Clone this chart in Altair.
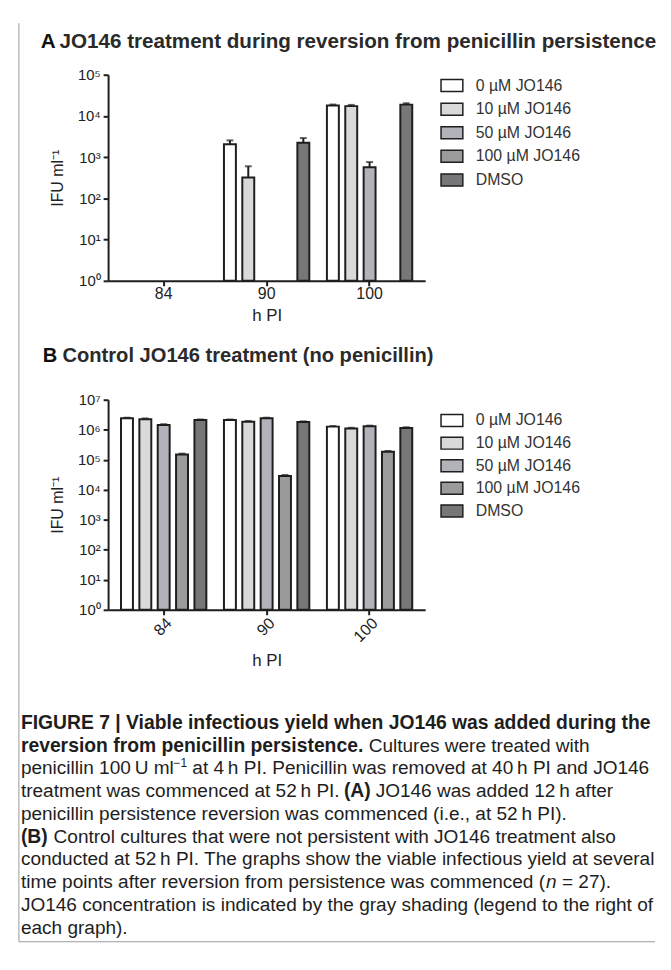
import altair as alt
import pandas as pd

FONT = "Liberation Sans"
INK = "#1e1e1e"

times = ["84", "90", "100"]
series = ["0 µM JO146", "10 µM JO146", "50 µM JO146", "100 µM JO146", "DMSO"]
shades = ["#ffffff", "#d9d9d9", "#b2b2bb", "#9b9b9b", "#77777a"]

# Panel A (IFU/ml; 0 = nothing recovered, no bar)
a_84 = [0, 0, 0, 0, 0]
a_90 = [2050, 320, 0, 0, 2250]
a_100 = [17800, 17300, 570, 0, 18800]
a_84_hi = [0, 0, 0, 0, 0]
a_90_hi = [2550, 600, 0, 0, 2900]
a_100_hi = [18900, 18500, 760, 0, 20300]

# Panel B
b_84 = [2400000, 2250000, 1450000, 150000, 2100000]
b_90 = [2100000, 1860000, 2400000, 28500, 1800000]
b_100 = [1270000, 1100000, 1300000, 185000, 1150000]
b_84_hi = [2520000, 2380000, 1530000, 160000, 2200000]
b_90_hi = [2200000, 1960000, 2520000, 31000, 1900000]
b_100_hi = [1330000, 1160000, 1370000, 196000, 1210000]


def frame(vals, his):
    rows = []
    for t, vl, hl in zip(times, vals, his):
        for s, v, h in zip(series, vl, hl):
            if v > 0:
                rows.append({"time": t, "series": s, "value": v, "hi": h, "base": 1})
    return pd.DataFrame(rows)


df_a = frame([a_84, a_90, a_100], [a_84_hi, a_90_hi, a_100_hi])
df_b = frame([b_84, b_90, b_100], [b_84_hi, b_90_hi, b_100_hi])

SUP = "['\u2070','\u00b9','\u00b2','\u00b3','\u2074','\u2075','\u2076','\u2077']"


def text_layer(txt, x, y, size, weight="normal", style="normal", color=INK):
    return alt.Chart(pd.DataFrame({"t": [txt]})).mark_text(
        align="left", baseline="middle", font=FONT, fontSize=size,
        fontWeight=weight, fontStyle=style, color=color
    ).encode(x=alt.value(x), y=alt.value(y), text="t:N")


def panel(df, decades, height, angle, letter, title, letter_x, title_x, title_y, title_size,
          legend_y, row_pad, xpad):
    xscale = alt.Scale(domain=times, paddingInner=0, paddingOuter=0.04)
    xo = alt.XOffset("series:N", scale=alt.Scale(domain=series, paddingInner=0.35, paddingOuter=0.48))
    yscale = alt.Scale(type="log", domain=[1, 10 ** decades], nice=False)
    xenc = alt.X("time:N", scale=xscale,
                 axis=alt.Axis(title="h PI", labelAngle=angle, titlePadding=xpad, labelPadding=0))
    yenc = alt.Y("value:Q", scale=yscale,
                 axis=alt.Axis(values=[10 ** i for i in range(decades + 1)],
                               labelExpr="'10' + " + SUP + "[round(log(datum.value)/LN10)]",
                               title="IFU ml\u207b\u00b9", titlePadding=12, labelPadding=3))
    bars = alt.Chart(df).mark_bar(stroke=INK, strokeWidth=2, opacity=1).encode(
        x=xenc, xOffset=xo, y=yenc, y2="base:Q",
        color=alt.Color("series:N", scale=alt.Scale(domain=series, range=shades),
                        legend=alt.Legend(title=None, orient="none", legendX=335, legendY=legend_y,
                                          symbolType="M-1,-0.55L1,-0.55L1,0.55L-1,0.55Z",
                                          symbolSize=484, symbolStrokeColor=INK, symbolStrokeWidth=1.5,
                                          symbolOpacity=1, labelFont=FONT, labelFontSize=16,
                                          labelColor="#333", labelOffset=12, rowPadding=row_pad,
                                          padding=0)))
    err = alt.Chart(df).mark_rule(color=INK, strokeWidth=2).encode(
        x="time:N", xOffset="series:N", y="value:Q", y2="hi:Q")
    cap = alt.Chart(df).mark_tick(color=INK, thickness=2, size=7).encode(
        x="time:N", xOffset="series:N", y="hi:Q")
    t1 = text_layer(letter, letter_x, title_y, title_size, "bold", color="#111")
    t2 = text_layer(title, title_x, title_y, title_size, "bold", color="#2a2a2a")
    return alt.layer(bars, err, cap, t1, t2).properties(width=320, height=height)


A = panel(df_a, 5, 208, 0, "A", "JO146 treatment during reversion from penicillin persistence",
          -68, -49, -33, 20.8, -1, 1.8, 6)
B = panel(df_b, 7, 212, -45, "B", "Control JO146 treatment (no penicillin)",
          -66, -46, -44, 20.3, 9, 0.8, 8)

NS = 19.2   # caption body size
BS = 19.5   # caption bold size

# Caption (page x -> relative to view left at 108; line centres relative to view top at 730)
caption = [
    [(20, "bold", "normal", "FIGURE 7 | Viable infectious yield when JO146 was added during the")],
    [(20, "bold", "normal", "reversion from penicillin persistence."),
     (371, "normal", "normal", "Cultures were treated with")],
    [(20, "normal", "normal", "penicillin 100\u2009U ml"),
     (174, "sup", "normal", "\u22121"),
     (193, "normal", "normal", "at 4\u2009h PI. Penicillin was removed at 40\u2009h PI and JO146")],
    [(20, "normal", "normal", "treatment was commenced at 52\u2009h PI."),
     (346, "bold", "normal", "(A)"),
     (378, "normal", "normal", "JO146 was added 12\u2009h after")],
    [(20, "normal", "normal", "penicillin persistence reversion was commenced (i.e., at 52\u2009h PI).")],
    [(20, "bold", "normal", "(B)"),
     (53, "normal", "normal", "Control cultures that were not persistent with JO146 treatment also")],
    [(20, "normal", "normal", "conducted at 52\u2009h PI. The graphs show the viable infectious yield at several")],
    [(20, "normal", "normal", "time points after reversion from persistence was commenced ("),
     (550, "normal", "italic", "n"),
     (566, "normal", "normal", "= 27).")],
    [(20, "normal", "normal", "JO146 concentration is indicated by the gray shading (legend to the right of")],
    [(20, "normal", "normal", "each graph).")],
]

cap_layers = []
for k, line in enumerate(caption):
    yc = -6 + 23 * k
    for px, w, st, txt in line:
        if w == "sup":
            cap_layers.append(text_layer(txt, px - 108, yc - 5, 12))
        elif w == "bold":
            cap_layers.append(text_layer(txt, px - 108, yc, BS, "bold", st))
        else:
            cap_layers.append(text_layer(txt, px - 108, yc, NS, w, st))

edge_v = alt.Chart(pd.DataFrame({"a": [0]})).mark_rule(color="#9a9a9a", strokeWidth=1).encode(
    x=alt.value(-90), y=alt.value(-712), y2=alt.value(215))
edge_h = alt.Chart(pd.DataFrame({"a": [0]})).mark_rule(color="#9a9a9a", strokeWidth=1).encode(
    x=alt.value(-90), x2=alt.value(552), y=alt.value(215))

C = alt.layer(*cap_layers, edge_v, edge_h).properties(width=320, height=210)

chart = alt.vconcat(A, B, C, spacing=120, bounds="flush").resolve_scale(
    color="independent", x="independent", y="independent", xOffset="independent"
).properties(
    padding={"left": 10, "top": 10, "right": 6, "bottom": 4}
).configure_view(stroke=None).configure_axis(
    grid=False, domainColor=INK, domainWidth=2, tickColor=INK, tickWidth=2, tickSize=5,
    labelFont=FONT, labelColor="#222", titleFont=FONT, titleFontWeight="normal", titleColor="#222"
).configure_axisX(labelFontSize=16, titleFontSize=17).configure_axisY(
    labelFontSize=15, titleFontSize=16)

chart.save("out.html", embed_options={"renderer": "svg", "actions": False})
